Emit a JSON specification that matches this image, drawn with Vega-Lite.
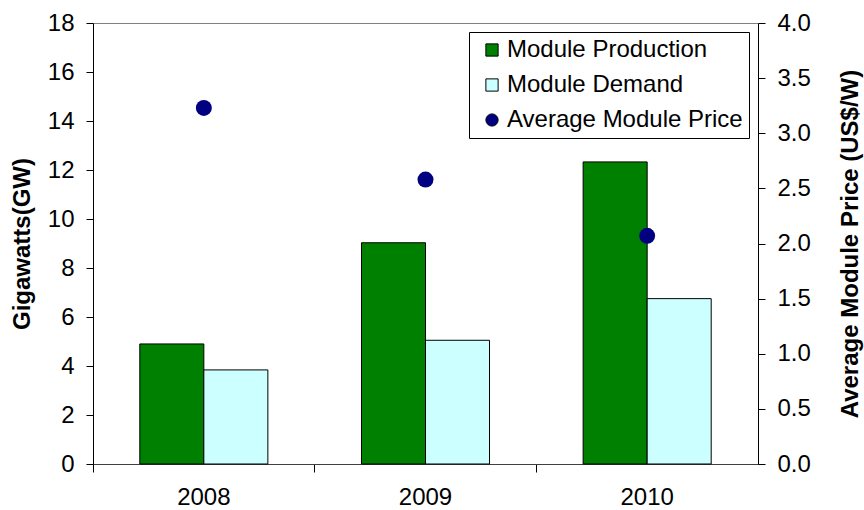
{
  "$schema": "https://vega.github.io/schema/vega-lite/v6.json",
  "autosize": {"type": "none"},
  "width": 665,
  "height": 441,
  "padding": {"left": 93, "top": 23, "right": 106, "bottom": 46},
  "config": {
    "font": "Liberation Sans",
    "view": {"stroke": "#808080", "strokeWidth": 1},
    "axis": {"grid": false, "labelFont": "Liberation Sans", "titleFont": "Liberation Sans", "labelFontSize": 24, "titleFontSize": 24, "titleFontWeight": "bold", "labelColor": "#000000", "titleColor": "#000000", "domainColor": "#000000", "tickColor": "#000000"}
  },
  "datasets": {
    "gw": [
      {"year": "2008", "series": "Module Production", "value": 4.9},
      {"year": "2008", "series": "Module Demand", "value": 3.84},
      {"year": "2009", "series": "Module Production", "value": 9.03},
      {"year": "2009", "series": "Module Demand", "value": 5.05},
      {"year": "2010", "series": "Module Production", "value": 12.33},
      {"year": "2010", "series": "Module Demand", "value": 6.75}
    ],
    "price": [
      {"year": "2008", "series": "Average Module Price", "price": 3.23},
      {"year": "2009", "series": "Average Module Price", "price": 2.58},
      {"year": "2010", "series": "Average Module Price", "price": 2.07}
    ]
  },
  "layer": [
    {
      "data": {"name": "gw"},
      "mark": {"type": "bar", "stroke": "#000000", "strokeWidth": 1},
      "encoding": {
        "x": {"field": "year", "type": "nominal", "scale": {"paddingInner": 0, "paddingOuter": 0}, "axis": {"title": null, "labelAngle": 0, "bandPosition": 0, "tickSize": 8, "labelPadding": 13, "domainColor": "#404040"}},
        "xOffset": {"field": "series", "type": "nominal", "scale": {"domain": ["Module Production", "Module Demand"], "paddingInner": 0, "paddingOuter": 0.731}},
        "y": {"field": "value", "type": "quantitative", "scale": {"domain": [0, 18]}, "axis": {"title": "Gigawatts(GW)", "values": [0, 2, 4, 6, 8, 10, 12, 14, 16, 18], "tickSize": 7, "labelPadding": 12, "titlePadding": 13}},
        "color": {
          "field": "series", "type": "nominal",
          "scale": {"domain": ["Module Production", "Module Demand", "Average Module Price"], "range": ["#008000", "#CCFFFF", "#000080"]},
          "legend": {
            "title": null, "orient": "none", "legendX": 376, "legendY": 9,
            "labelFontSize": 24, "labelFont": "Liberation Sans", "labelColor": "#000000", "labelLimit": 400,
            "symbolSize": 150, "rowPadding": 11, "padding": 6, "symbolOffset": 5, "labelOffset": 3,
            "strokeColor": "#000000", "fillColor": "#ffffff",
            "symbolOpacity": 1, "symbolStrokeColor": "#000000", "symbolStrokeWidth": 1
          }
        }
      }
    },
    {
      "data": {"name": "price"},
      "mark": {"type": "point", "filled": true, "size": 255, "opacity": 1},
      "encoding": {
        "x": {"field": "year", "type": "nominal"},
        "y": {"field": "price", "type": "quantitative", "scale": {"domain": [0, 4]}, "axis": {"orient": "right", "title": "Average Module Price (US$/W)", "titleAngle": 270, "values": [0, 0.5, 1, 1.5, 2, 2.5, 3, 3.5, 4], "format": ".1f", "tickSize": 7, "labelPadding": 12, "titlePadding": 52}},
        "color": {"field": "series", "type": "nominal"},
        "shape": {"field": "series", "type": "nominal", "scale": {"domain": ["Module Production", "Module Demand", "Average Module Price"], "range": ["square", "square", "circle"]}}
      }
    }
  ],
  "resolve": {"scale": {"y": "independent"}}
}
